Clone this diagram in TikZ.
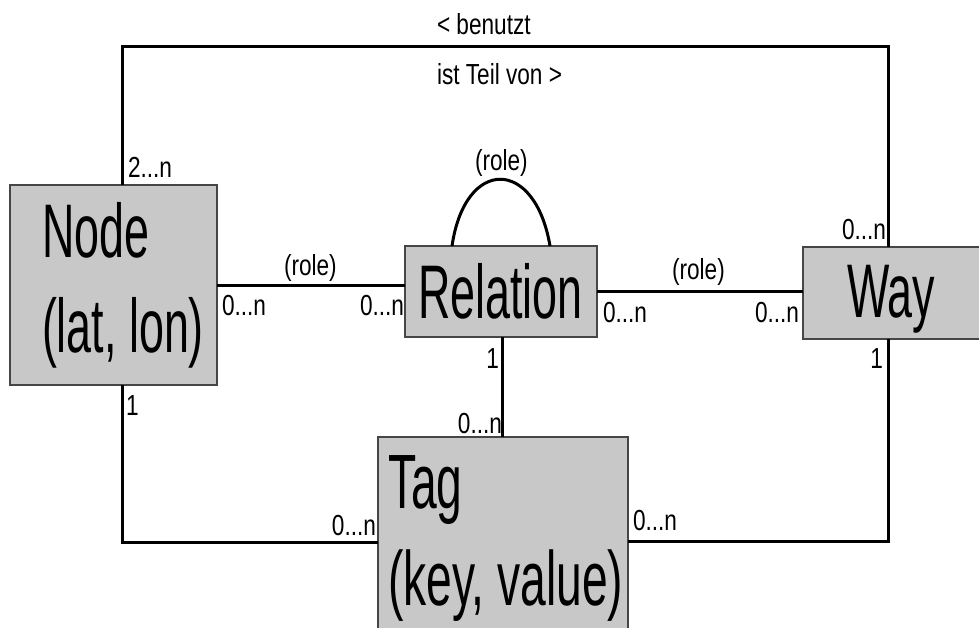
\documentclass[tikz,border=0pt]{standalone}
\usepackage{fontspec}
\setmainfont{Liberation Sans}
\newfontfamily\smallf[FakeStretch=0.78]{Liberation Sans}
\newfontfamily\bigf[FakeStretch=0.59]{Liberation Sans}
\newfontfamily\bigtagf[FakeStretch=0.6]{Liberation Sans}
\definecolor{boxfill}{RGB}{200,200,200}
\definecolor{boxdraw}{RGB}{70,70,70}
\tikzset{
  entity/.style={draw=boxdraw, fill=boxfill, line width=1.8pt, inner sep=0pt, outer sep=0pt, anchor=north west},
  bigtxt/.style={inner sep=0pt, outer sep=0pt, font=\bigf\fontsize{76}{80}\selectfont},
  bigtag/.style={inner sep=0pt, outer sep=0pt, font=\bigtagf\fontsize{77}{80}\selectfont},
  lbl/.style={inner sep=0pt, outer sep=0pt, font=\smallf\fontsize{29}{32}\selectfont},
  conn/.style={line width=3pt, black}
}
\begin{document}
\begin{tikzpicture}[x=1pt, y=-1pt]
\useasboundingbox (0,0) rectangle (979,628);
\clip (0,0) rectangle (979,628);
\fill[white] (0,0) rectangle (979,628);
% boxes
\node[entity, minimum width=207pt, minimum height=200pt] (node) at (10,185) {};
\node[entity, minimum width=192pt, minimum height=91pt] (rel) at (405,246) {};
\node[entity, minimum width=200pt, minimum height=92pt] (way) at (803,247) {};
\node[entity, minimum width=250pt, minimum height=215pt] (tag) at (378,437) {};
% coordinates for connector corners
\coordinate (tl) at (122,47);
\coordinate (tr) at (888,47);
\coordinate (bl) at (122,542);
\coordinate (br) at (888,541);
\coordinate (rt) at (502,0);
% connectors
\draw[conn] (node.north -| tl) -- (tl) -- (tr) -- (way.north -| tr);
\draw[conn] (node.east) -- (rel.west |- node.east);
\draw[conn] (rel.east) -- (way.west |- rel.east);
\draw[conn] (rel.south -| rt) -- (tag.north -| rt);
\draw[conn] (node.south -| bl) -- (bl) -- (tag.west |- bl);
\draw[conn] (way.south -| br) -- (br) -- (tag.east |- br);
\draw[conn] ([xshift=47pt]rel.north west) .. controls (465,157) and (535,157) .. ([xshift=145pt]rel.north west);
% box texts
\node[bigtxt, anchor=base west] (tnode1) at (42,258) {Node};
\node[bigtxt, anchor=base west] (tnode2) at (42,352) {(lat, lon)};
\node[bigtxt, anchor=base west] (trel) at (418,318) {Relation};
\node[bigtxt, anchor=base west] (tway) at (847,317) {Way};
\node[bigtag, anchor=base west] (ttag1) at (388,508) {Tag};
\node[bigtag, anchor=base west] (ttag2) at (388,605) {(key, value)};
% labels
\node[lbl, anchor=base west] (lbenutzt) at (437,35) {< benutzt};
\node[lbl, anchor=base west] (lteil) at (437,85) {ist Teil von >};
\node[lbl, anchor=base west] (l2n) at (128,178) {2...n};
\node[lbl, anchor=base west] (lrole1) at (284,276) {(role)};
\node[lbl, anchor=base west] (lnr1) at (222,315) {0...n};
\node[lbl, anchor=base west] (lnr2) at (360,315) {0...n};
\node[lbl, anchor=base west] (lrole2) at (672,279) {(role)};
\node[lbl, anchor=base west] (lrw1) at (603,322) {0...n};
\node[lbl, anchor=base west] (lrw2) at (755,322) {0...n};
\node[lbl, anchor=base west] (lwtop) at (842,240) {0...n};
\node[lbl, anchor=base east] (lwbot) at (883,368) {1};
\node[lbl, anchor=base east] (lrbot) at (499,368) {1};
\node[lbl, anchor=base east] (ltagtop) at (502,433) {0...n};
\node[lbl, anchor=base east] (ltagl) at (376,535) {0...n};
\node[lbl, anchor=base west] (ltagr) at (633,530) {0...n};
\node[lbl, anchor=base west] (lnbot) at (126,415) {1};
\node[lbl, anchor=base west] (lrole3) at (475,171) {(role)};
\end{tikzpicture}
\end{document}
